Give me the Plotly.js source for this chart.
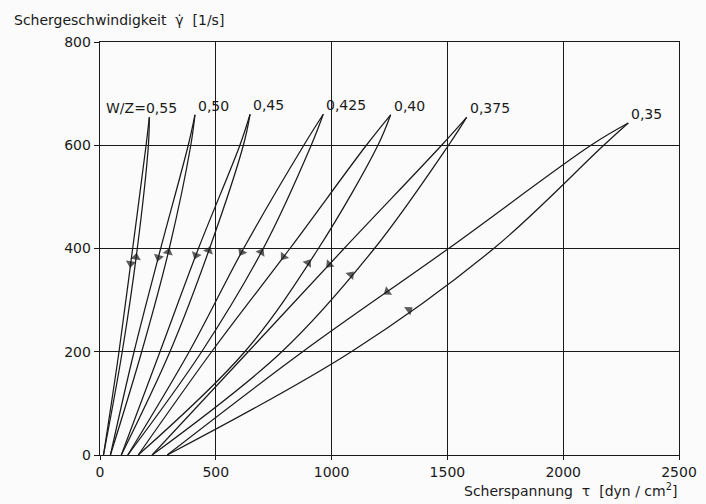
<!DOCTYPE html>
<html>
<head>
<meta charset="utf-8">
<script src="https://cdn.plot.ly/plotly-3.0.1.min.js"></script>
<style>html,body{margin:0;padding:0;background:#fbfbfb;}</style>
</head>
<body>
<div id="chart" style="width:706px;height:504px;"></div>
<script>
// W/Z ratios (labels)
const loopLabels = ['W/Z=0,55', '0,50', '0,45', '0,425', '0,40', '0,375', '0,35'];
// shear rate levels (1/s) at which the stress values are read
const rateLevels = [0, 200, 400, 600];
// apex of each hysteresis loop
const apexTau  = [213, 410, 648, 964, 1255, 1583, 2281];
const apexRate = [654, 659, 660, 660, 659, 654, 643];
// starting stress at rate 0
const baseTau  = [15, 45, 92, 120, 165, 225, 290];
// down curve (decreasing rate): stress at 200, 400, 600 1/s
const downTau200 = [82, 147, 259, 385, 482, 640, 875];
const downTau400 = [141, 262, 425, 620, 820, 1054, 1505];
const downTau600 = [199, 381, 604, 880, 1150, 1475, 2120];
// up curve (increasing rate): stress at 200, 400, 600 1/s
const upTau200 = [96, 180, 302, 439, 625, 785, 1085];
const upTau400 = [161, 299, 473, 705, 943, 1185, 1700];
const upTau600 = [209, 392, 619, 912, 1200, 1505, 2175];
// shear rate at which the direction arrows sit
const downArrowRate = [371, 383, 387, 393, 384, 369, 316];
const upArrowRate   = [383, 393, 396, 393, 372, 349, 281];

const ink = '#1a1a1a';
const font = 'DejaVu Sans, sans-serif';

function curve(i, kind) {
  const t = kind === 'down'
    ? [baseTau[i], downTau200[i], downTau400[i], downTau600[i], apexTau[i]]
    : [baseTau[i], upTau200[i], upTau400[i], upTau600[i], apexTau[i]];
  const r = rateLevels.concat([apexRate[i]]);
  return {x: t, y: r};
}
function interp(c, rate) {
  for (let k = 0; k < c.y.length - 1; k++) {
    if (rate >= c.y[k] && rate <= c.y[k + 1]) {
      const f = (rate - c.y[k]) / (c.y[k + 1] - c.y[k]);
      return c.x[k] + f * (c.x[k + 1] - c.x[k]);
    }
  }
  return c.x[c.x.length - 1];
}

const traces = [];
const ax = [], ay = [], asz = [];
for (let i = 0; i < loopLabels.length; i++) {
  ['down', 'up'].forEach(kind => {
    const c = curve(i, kind);
    traces.push({
      type: 'scatter', mode: 'lines', x: c.x, y: c.y,
      line: {color: ink, width: 1.25, shape: 'spline', smoothing: 1},
      hoverinfo: 'skip', showlegend: false
    });
    const r = kind === 'down' ? downArrowRate[i] : upArrowRate[i];
    const rPrev = kind === 'down' ? r + 12 : r - 12;
    ax.push(interp(c, rPrev), interp(c, r));
    ay.push(rPrev, r);
    asz.push(0, 9);
  });
}
traces.push({
  type: 'scatter', mode: 'markers', x: ax, y: ay,
  marker: {symbol: 'triangle-up', size: asz, color: ink, angleref: 'previous', line: {width: 0}},
  hoverinfo: 'skip', showlegend: false
});

const annotations = loopLabels.map((txt, i) => ({
  x: apexTau[i], y: apexRate[i], xref: 'x', yref: 'y',
  text: txt, showarrow: false,
  xanchor: i === 0 ? 'right' : 'left', yanchor: 'bottom',
  xshift: i === 0 ? 30 : 1, yshift: -1,
  font: {family: font, size: 14, color: ink}
}));
annotations.push({
  xref: 'paper', yref: 'paper', x: -0.152, y: 1.053, xanchor: 'left', yanchor: 'middle',
  text: 'Schergeschwindigkeit  γ̇  [1/s]', showarrow: false,
  font: {family: font, size: 14, color: ink}
});
annotations.push({
  xref: 'paper', yref: 'paper', x: 1.0, y: -0.085, xanchor: 'right', yanchor: 'middle',
  text: 'Scherspannung  τ  [dyn / cm<sup>2</sup>]', showarrow: false,
  font: {family: font, size: 14, color: ink}
});

const layout = {
  width: 706, height: 504,
  margin: {l: 100, r: 27, t: 42, b: 49},
  paper_bgcolor: '#fbfbfb', plot_bgcolor: '#fbfbfb',
  font: {family: font, size: 14, color: ink},
  showlegend: false,
  xaxis: {
    range: [0, 2500], tickvals: [0, 500, 1000, 1500, 2000, 2500],
    showgrid: true, gridcolor: ink, gridwidth: 1,
    showline: true, linecolor: ink, linewidth: 1.3, mirror: true,
    ticks: 'outside', ticklen: 4, tickcolor: ink, zeroline: false,
    tickfont: {family: font, size: 14, color: ink}
  },
  yaxis: {
    range: [0, 800], tickvals: [0, 200, 400, 600, 800],
    showgrid: true, gridcolor: ink, gridwidth: 1,
    showline: true, linecolor: ink, linewidth: 1.3, mirror: true,
    ticks: 'outside', ticklen: 5, tickcolor: ink, zeroline: false,
    tickfont: {family: font, size: 14, color: ink}
  },
  annotations: annotations
};

Plotly.newPlot('chart', traces, layout, {displayModeBar: false, staticPlot: true});
</script>
</body>
</html>
